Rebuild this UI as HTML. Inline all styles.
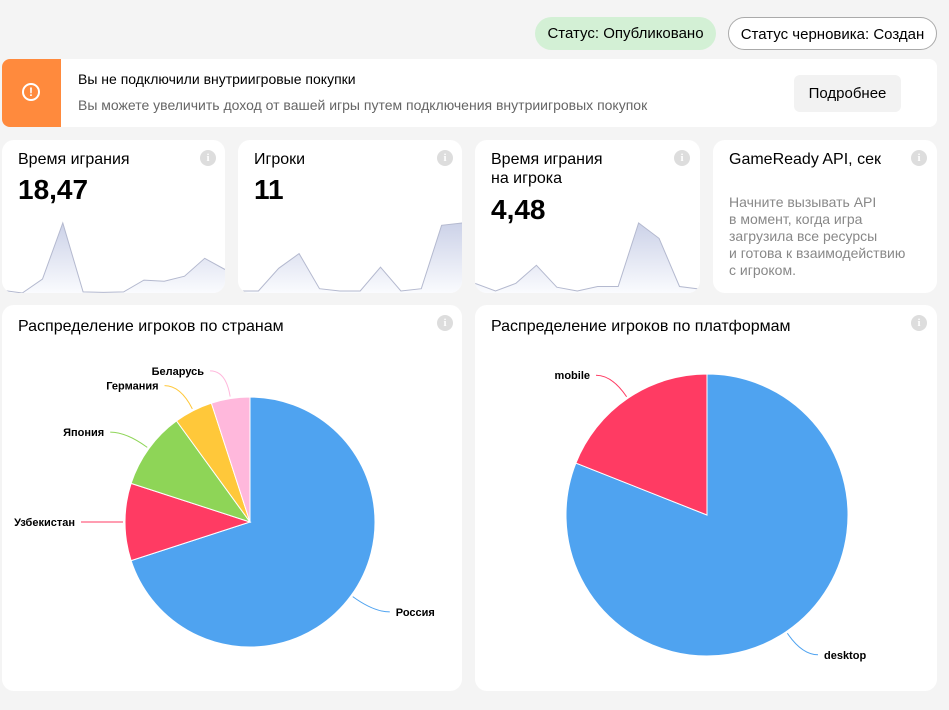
<!DOCTYPE html>
<html><head><meta charset="utf-8">
<style>
*{box-sizing:border-box;margin:0;padding:0}
body{width:949px;height:710px;background:#f4f4f4;font-family:"Liberation Sans","Noto Sans CJK SC",sans-serif;position:relative;overflow:hidden;color:#000}
.card{position:absolute;background:#fff;border-radius:12px;overflow:hidden}
.pill{position:absolute;height:33px;border-radius:17px;font-size:15px;line-height:33px;text-align:center}
.title{position:absolute;left:16px;top:10px;font-size:16px;line-height:19px}
.val{position:absolute;left:16px;font-size:28px;font-weight:bold}
.info{position:absolute;width:16px;height:16px;border-radius:8px;background:#ddd;color:#fff;font-size:11px;font-weight:bold;text-align:center;line-height:16px;font-family:"Liberation Serif",serif}
svg text{font-family:"Liberation Sans",sans-serif;font-size:11px;font-weight:bold}
</style></head><body>
<div class="pill" style="left:535px;top:17px;width:181px;background:#d3f0d5">Статус: Опубликовано</div>
<div class="pill" style="left:728px;top:17px;width:209px;background:#fff;border:1px solid #aaa">Статус черновика: Создан</div>

<div class="card" style="left:2px;top:59px;width:935px;height:68px;border-radius:8px">
  <div style="position:absolute;left:0;top:0;width:59px;height:68px;background:#ff8a3d">
    <div style="position:absolute;left:20px;top:24px;width:18px;height:18px;border:2px solid #fff;border-radius:9px;color:#fff;font-size:12px;font-weight:bold;text-align:center;line-height:14px">!</div>
  </div>
  <div style="position:absolute;left:76px;top:12px;font-size:14px">Вы не подключили внутриигровые покупки</div>
  <div style="position:absolute;left:76px;top:38px;font-size:14px;color:#666">Вы можете увеличить доход от вашей игры путем подключения внутриигровых покупок</div>
  <div style="position:absolute;left:792px;top:16px;width:107px;height:37px;background:#f2f2f2;border-radius:6px;font-size:15px;line-height:37px;text-align:center">Подробнее</div>
</div>

<div class="card" style="left:2px;top:140px;width:223px;height:153px">
  <div class="title">Время играния</div>
  <div class="val" style="top:34px">18,47</div>
  <div class="info" style="left:198px;top:10px">i</div>
  <svg id="sp1" width="223" height="153" style="position:absolute;left:0;top:0"></svg>
</div>
<div class="card" style="left:238px;top:140px;width:224px;height:153px">
  <div class="title">Игроки</div>
  <div class="val" style="top:34px">11</div>
  <div class="info" style="left:199px;top:10px">i</div>
  <svg id="sp2" width="224" height="153" style="position:absolute;left:0;top:0"></svg>
</div>
<div class="card" style="left:475px;top:140px;width:225px;height:153px">
  <div class="title">Время играния<br>на игрока</div>
  <div class="val" style="top:54px">4,48</div>
  <div class="info" style="left:199px;top:10px">i</div>
  <svg id="sp3" width="225" height="153" style="position:absolute;left:0;top:0"></svg>
</div>
<div class="card" style="left:713px;top:140px;width:224px;height:153px">
  <div class="title">GameReady API, сек</div>
  <div class="info" style="left:198px;top:10px">i</div>
  <div style="position:absolute;left:16px;top:54px;font-size:14px;line-height:17px;color:#888">Начните вызывать API<br>в момент, когда игра<br>загрузила все ресурсы<br>и готова к взаимодействию<br>с игроком.</div>
</div>

<div class="card" style="left:2px;top:305px;width:460px;height:386px">
  <div class="title" style="top:12px">Распределение игроков по странам</div>
  <div class="info" style="left:435px;top:10px">i</div>
</div>
<div class="card" style="left:475px;top:305px;width:462px;height:386px">
  <div class="title" style="top:12px">Распределение игроков по платформам</div>
  <div class="info" style="left:436px;top:10px">i</div>
</div>
<svg id="pies" width="949" height="710" style="position:absolute;left:0;top:0"></svg>

<script>
const spark1 = [1, 0, 5, 25, 0.4, 0.2, 0.4, 4.6, 4.2, 6, 12.4, 8.4];
const spark2 = [0, 0, 1, 1.65, 0.1, 0, 0, 1.05, 0, 0.1, 2.9, 3];
const spark3 = [1.2, 0, 1.2, 4, 0.6, 0, 0.7, 0.7, 10.6, 8.2, 0.7, 0.3];
const countryNames = ["Россия", "Узбекистан", "Япония", "Германия", "Беларусь"];
const countryValues = [70, 10, 10, 5, 5];
const countryColors = ["#4fa3f0", "#ff3b63", "#8ed557", "#ffc83a", "#ffb8dc"];
const platformNames = ["desktop", "mobile"];
const platformValues = [81, 19];
const platformColors = ["#4fa3f0", "#ff3b63"];
const NS = "http://www.w3.org/2000/svg";

function drawSpark(id, data, w, baseY, topY, gid) {
  const svg = document.getElementById(id);
  const max = Math.max(...data), min = Math.min(...data);
  const xs = i => i * w / (data.length - 1);
  const ys = v => baseY - (v - min) / (max - min) * (baseY - topY);
  let pts = data.map((v, i) => xs(i).toFixed(1) + "," + ys(v).toFixed(1)).join(" ");
  svg.innerHTML = '<defs><linearGradient id="' + gid + '" x1="0" y1="0" x2="0" y2="1"><stop offset="0" stop-color="#ccd2e8"/><stop offset="1" stop-color="#fafbfe"/></linearGradient></defs>';
  const area = document.createElementNS(NS, "polygon");
  area.setAttribute("points", "0,153 " + pts + " " + w + ",153");
  area.setAttribute("fill", "url(#" + gid + ")");
  
  
  svg.appendChild(area);
  const line = document.createElementNS(NS, "polyline");
  line.setAttribute("points", pts);
  line.setAttribute("fill", "none");
  line.setAttribute("stroke", "#b4b9cf");
  line.setAttribute("stroke-width", "1");
  
  
  svg.appendChild(line);
}
drawSpark("sp1", spark1, 223, 153, 83, "g1");
drawSpark("sp2", spark2, 224, 151, 83, "g2");
drawSpark("sp3", spark3, 225, 151, 83, "g3");

function drawPie(cx, cy, r, names, values, colors) {
  const svg = document.getElementById("pies");
  const total = values.reduce((a, b) => a + b, 0);
  let a0 = 0;
  values.forEach((v, i) => {
    const a1 = a0 + v / total * Math.PI * 2;
    const p = a => [cx + r * Math.sin(a), cy - r * Math.cos(a)];
    const [x0, y0] = p(a0), [x1, y1] = p(a1);
    const large = (a1 - a0) > Math.PI ? 1 : 0;
    const path = document.createElementNS(NS, "path");
    path.setAttribute("d", `M${cx},${cy} L${x0},${y0} A${r},${r} 0 ${large} 1 ${x1},${y1} Z`);
    path.setAttribute("fill", colors[i]);
    path.setAttribute("stroke", "#fff");
    path.setAttribute("stroke-width", "1");
    
    
    svg.appendChild(path);
    const am = (a0 + a1) / 2;
    const sx = cx + (r + 2) * Math.sin(am), sy = cy - (r + 2) * Math.cos(am);
    const ex = cx + (r + 28) * Math.sin(am), ey = cy - (r + 28) * Math.cos(am);
    const right = Math.sin(am) >= 0;
    const hx = ex + (right ? 16 : -16);
    const ln = document.createElementNS(NS, "path");
    ln.setAttribute("d", `M${sx},${sy} Q${ex},${ey} ${hx},${ey}`);
    ln.setAttribute("fill", "none");
    ln.setAttribute("stroke", colors[i]);
    
    
    svg.appendChild(ln);
    const t = document.createElementNS(NS, "text");
    t.setAttribute("x", hx + (right ? 6 : -6));
    t.setAttribute("y", ey + 4);
    t.setAttribute("text-anchor", right ? "start" : "end");
    t.textContent = names[i];
    
    
    svg.appendChild(t);
    a0 = a1;
  });
}
drawPie(250, 522, 125, countryNames, countryValues, countryColors);
drawPie(707, 515, 141, platformNames, platformValues, platformColors);
</script>
</body></html>
